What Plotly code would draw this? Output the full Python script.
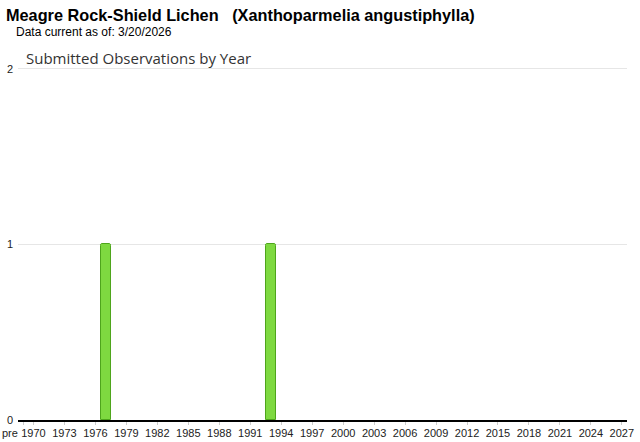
import plotly.graph_objects as go

# Data
categories = ["pre"] + [str(y) for y in range(1970, 2028)]
obs_years = ["1977", "1993"]
obs_counts = [1, 1]
counts = [obs_counts[obs_years.index(c)] if c in obs_years else None for c in categories]
tick_labels = ["pre"] + [str(y) for y in range(1970, 2028, 3)]

title_text = "Meagre Rock-Shield Lichen   (Xanthoparmelia angustiphylla)"
subtitle_text = "Data current as of: 3/20/2026"
chart_title = "Submitted Observations by Year"

fig = go.Figure()
fig.add_trace(go.Bar(
    x=categories, y=counts,
    marker=dict(color="#7ed940", line=dict(color="#4ea51c", width=1), cornerradius=2),
    width=0.98,
    hoverinfo="x+y",
))

PH = 354.0  # plot height in px (442 - 66 - 22)
def py(ypix):
    return (420 - ypix) / PH

fig.update_layout(
    width=640, height=442,
    margin=dict(l=18, r=13, t=66, b=22, autoexpand=False),
    paper_bgcolor="white", plot_bgcolor="white",
    showlegend=False,
    bargap=0,
    font=dict(family="Arial, Liberation Sans, sans-serif", size=11, color="#222"),
    xaxis=dict(
        type="category", automargin=False,
        categoryorder="array", categoryarray=categories,
        tickmode="array", tickvals=tick_labels, ticktext=[""] + tick_labels[1:],
        tickangle=0,
        showline=True, linecolor="#000", linewidth=2,
        ticks="outside", ticklen=3, tickcolor="#ccc", tickwidth=1,
        ticklabelstandoff=-1,
        showgrid=False,
        tickfont=dict(size=11, color="#222"),
        range=[-0.5, len(categories) - 0.5],
    ),
    yaxis=dict(
        range=[0, 2.017], automargin=False,
        tickvals=[0, 1, 2],
        showgrid=True, gridcolor="#e6e6e6", gridwidth=1,
        zeroline=False,
        showline=False,
        ticks="", ticklabelstandoff=4,
        tickfont=dict(size=11, color="#222"),
    ),
    annotations=[
        dict(text="<b>" + title_text + "</b>", xref="paper", yref="paper",
             x=-14/609, y=py(15), xanchor="left", yanchor="middle",
             showarrow=False, font=dict(family="Arial, Liberation Sans, sans-serif", size=16.3, color="#000")),
        dict(text=subtitle_text, xref="paper", yref="paper",
             x=-4/609, y=py(32), xanchor="left", yanchor="middle",
             showarrow=False, font=dict(family="Arial, Liberation Sans, sans-serif", size=12, color="#000")),
        dict(text=chart_title, xref="paper", yref="paper",
             x=6/609, y=py(58), xanchor="left", yanchor="middle",
             showarrow=False, font=dict(family="Open Sans, DejaVu Sans, sans-serif", size=15, color="#333")),
        dict(text="pre", xref="x", yref="paper", x="pre", y=0,
             xanchor="center", yanchor="top", yshift=-5, xshift=-13,
             showarrow=False, font=dict(family="Arial, Liberation Sans, sans-serif", size=11, color="#222")),
    ],
)

fig.write_html("out.html", post_script="document.body.style.margin='0';",
               config={"displayModeBar": False})
